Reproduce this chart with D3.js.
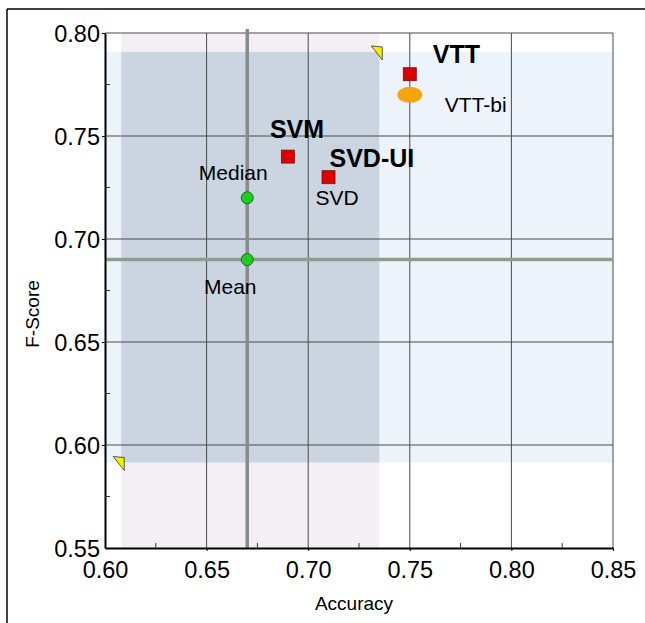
<!DOCTYPE html>
<html>
<head>
<meta charset="utf-8">
<script src="https://cdn.jsdelivr.net/npm/d3@7"></script>
<style>
  body { margin: 0; background: #fff; }
  svg text { font-family: "Liberation Sans", Arial, sans-serif; }
</style>
</head>
<body>
<svg id="chart" width="645" height="623"></svg>
<script>
// DATA
var methods  = ['Median', 'Mean', 'SVM', 'SVD', 'VTT', 'VTT-bi'];
var accuracy = [0.67, 0.67, 0.69, 0.71, 0.75, 0.75];
var fscore   = [0.72, 0.69, 0.74, 0.73, 0.78, 0.77];
var kinds    = ['stat', 'stat', 'model', 'model', 'model', 'bi'];

// interval boxes (accuracy and f-score ranges)
var accRange = [0.608, 0.735];
var fRange   = [0.5915, 0.7908];

// reference lines
var meanAcc = 0.67;
var meanF   = 0.69;

var xTicks = [0.60, 0.65, 0.70, 0.75, 0.80, 0.85];
var yTicks = [0.55, 0.60, 0.65, 0.70, 0.75, 0.80];
var xMinor = [0.625, 0.675, 0.725, 0.775, 0.825];
var yMinor = [0.575, 0.625, 0.675, 0.725, 0.775];

// extra text labels: [method it sits by, text, bold]
var labels = [
  ['Median', 'Median', false],
  ['Mean', 'Mean', false],
  ['SVM', 'SVM', true],
  ['SVD', 'SVD', false],
  ['SVD', 'SVD-UI', true],
  ['VTT', 'VTT', true],
  ['VTT-bi', 'VTT-bi', false]
];

var svg = d3.select('#chart');

// outer frame
svg.append('line').attr('x1', 7).attr('y1', 9).attr('x2', 645).attr('y2', 9)
  .attr('stroke', '#000').attr('stroke-width', 1.5);
svg.append('line').attr('x1', 7).attr('y1', 9).attr('x2', 7).attr('y2', 623)
  .attr('stroke', '#000').attr('stroke-width', 1.5);

var x = d3.scaleLinear().domain([0.60, 0.85]).range([105, 613]);
var y = d3.scaleLinear().domain([0.55, 0.80]).range([548, 33]);

// shaded regions
svg.append('rect')
  .attr('x', x(accRange[0])).attr('y', y(0.80))
  .attr('width', x(accRange[1]) - x(accRange[0])).attr('height', y(0.55) - y(0.80))
  .attr('fill', '#f4eff5');
svg.append('rect')
  .attr('x', x(0.60)).attr('y', y(fRange[1]))
  .attr('width', x(0.85) - x(0.60)).attr('height', y(fRange[0]) - y(fRange[1]))
  .attr('fill', '#edf3fa');
svg.append('rect')
  .attr('x', x(accRange[0])).attr('y', y(fRange[1]))
  .attr('width', x(accRange[1]) - x(accRange[0])).attr('height', y(fRange[0]) - y(fRange[1]))
  .attr('fill', '#cbd5e1');

// grid
svg.selectAll('.vgrid').data(xTicks.slice(1)).enter().append('line')
  .attr('x1', function(d) { return x(d); }).attr('x2', function(d) { return x(d); })
  .attr('y1', y(0.80)).attr('y2', y(0.55))
  .attr('stroke', '#4a4a4a').attr('stroke-width', 1);
svg.selectAll('.hgrid').data(yTicks.slice(1)).enter().append('line')
  .attr('x1', x(0.60)).attr('x2', x(0.85))
  .attr('y1', function(d) { return y(d); }).attr('y2', function(d) { return y(d); })
  .attr('stroke', '#4a4a4a').attr('stroke-width', 1);

// mean lines
svg.append('line')
  .attr('x1', x(0.60)).attr('x2', x(0.85)).attr('y1', y(meanF)).attr('y2', y(meanF))
  .attr('stroke', '#8e9e8e').attr('stroke-width', 3.5);
svg.append('line')
  .attr('x1', x(meanAcc)).attr('x2', x(meanAcc)).attr('y1', y(0.80) - 4).attr('y2', y(0.55))
  .attr('stroke', '#868b8c').attr('stroke-width', 3.5);

// axes
var xAxis = d3.axisBottom(x).tickValues(xTicks).tickFormat(d3.format('.2f')).tickSizeInner(3).tickSizeOuter(0);
var yAxis = d3.axisLeft(y).tickValues(yTicks).tickFormat(d3.format('.2f')).tickSizeInner(3).tickSizeOuter(0);

var gx = svg.append('g').attr('transform', 'translate(0,' + y(0.55) + ')').call(xAxis);
var gy = svg.append('g').attr('transform', 'translate(' + x(0.60) + ',0)').call(yAxis);
gx.select('.domain').attr('stroke', '#000').attr('stroke-width', 2);
gy.select('.domain').attr('stroke', '#000').attr('stroke-width', 2);
gx.selectAll('.tick line').attr('stroke', '#000');
gy.selectAll('.tick line').attr('stroke', '#000');
gx.selectAll('.tick text').attr('font-size', 23.5).attr('fill', '#000').attr('dy', null).attr('y', 30);
gy.selectAll('.tick text').attr('font-size', 23.5).attr('fill', '#000').attr('x', -5).attr('dy', '0.35em');
gx.selectAll('.tick').filter(function(d) { return d === 0.60; }).select('line').remove();
gy.selectAll('.tick').filter(function(d) { return d === 0.55; }).select('line').remove();

// minor ticks pointing in
svg.selectAll('.xminor').data(xMinor).enter().append('line')
  .attr('x1', function(d) { return x(d); }).attr('x2', function(d) { return x(d); })
  .attr('y1', y(0.55)).attr('y2', y(0.55) - 5)
  .attr('stroke', '#333');
svg.selectAll('.yminor').data(yMinor).enter().append('line')
  .attr('x1', x(0.60)).attr('x2', x(0.60) + 5)
  .attr('y1', function(d) { return y(d); }).attr('y2', function(d) { return y(d); })
  .attr('stroke', '#333');

// axis titles
svg.append('text').attr('x', 354).attr('y', 610).attr('text-anchor', 'middle')
  .attr('font-size', 19).text('Accuracy');
svg.append('text').attr('transform', 'translate(39,314) rotate(-90)').attr('text-anchor', 'middle')
  .attr('font-size', 19).text('F-Score');

// corner markers of the interval box
var tri = 'M-8,-6 L3,-5 L3,8 Z';
[[accRange[1], fRange[1]], [accRange[0], fRange[0]]].forEach(function(c) {
  svg.append('path').attr('d', tri)
    .attr('transform', 'translate(' + x(c[0]) + ',' + y(c[1]) + ')')
    .attr('fill', '#f5f000').attr('stroke', '#333').attr('stroke-width', 0.8);
});

// points
methods.forEach(function(m, i) {
  var px = x(accuracy[i]), py = y(fscore[i]);
  if (kinds[i] === 'stat') {
    svg.append('circle').attr('cx', px).attr('cy', py).attr('r', 6)
      .attr('fill', '#1fcc1f').attr('stroke', '#1a6b1a').attr('stroke-width', 1);
  } else if (kinds[i] === 'model') {
    svg.append('rect').attr('x', px - 6.5).attr('y', py - 6.5).attr('width', 13).attr('height', 13)
      .attr('fill', '#dd0000').attr('stroke', '#7a1010').attr('stroke-width', 0.8);
  } else {
    svg.append('ellipse').attr('cx', px).attr('cy', py).attr('rx', 12.5).attr('ry', 8)
      .attr('fill', '#f5a50c');
  }
});

// label offsets from their points (pixels)
var offsets = {
  'Median': [-14, -18, 'middle'],
  'Mean': [-17, 34, 'middle'],
  'SVM': [-18, -19, 'start'],
  'SVD': [-13, 28, 'start'],
  'SVD-UI': [1, -10, 'start'],
  'VTT': [23, -11, 'start'],
  'VTT-bi': [35, 17, 'start']
};

labels.forEach(function(l) {
  var i = methods.indexOf(l[0]);
  var o = offsets[l[1]];
  svg.append('text')
    .attr('x', x(accuracy[i]) + o[0])
    .attr('y', y(fscore[i]) + o[1])
    .attr('text-anchor', o[2])
    .attr('font-size', l[2] ? 25 : 21)
    .attr('font-weight', l[2] ? 'bold' : 'normal')
    .attr('fill', '#000')
    .text(l[1]);
});
</script>
</body>
</html>
